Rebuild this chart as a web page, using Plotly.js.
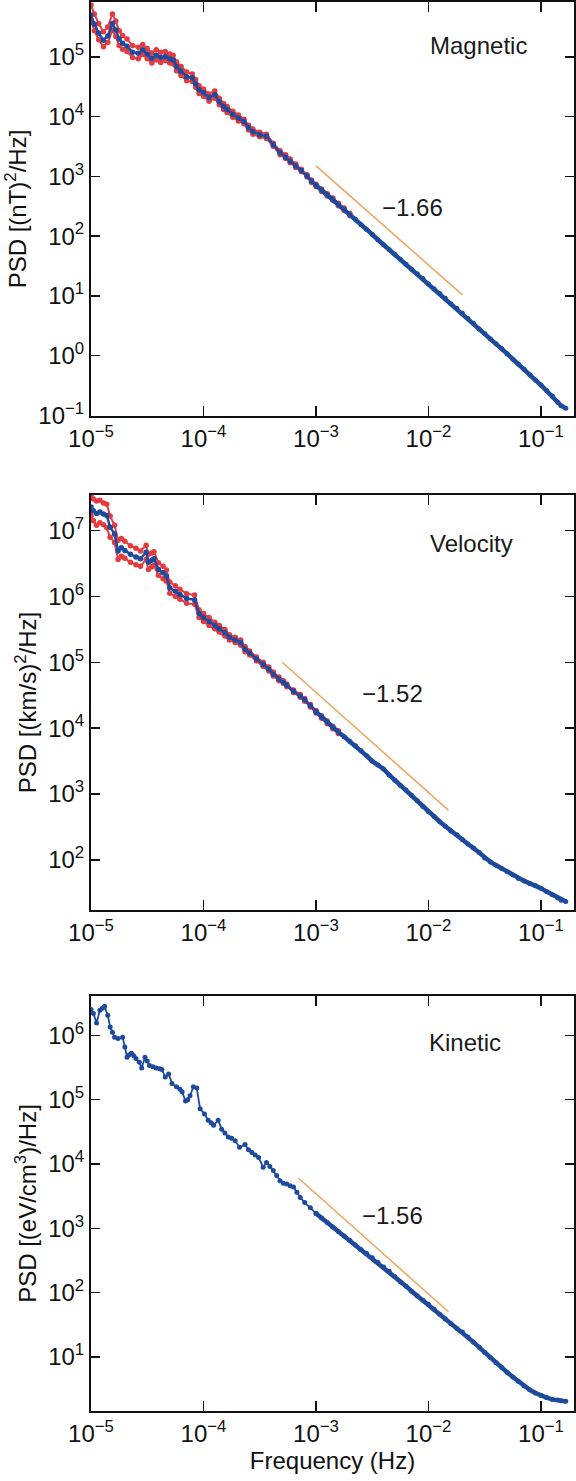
<!DOCTYPE html>
<html>
<head>
<meta charset="utf-8">
<script src="https://cdn.plot.ly/plotly-3.0.1.min.js"></script>
<style>
  html, body { margin: 0; padding: 0; background: #fff; }
  #chart { width: 576px; height: 1481px; }
</style>
</head>
<body>
<div id="chart"></div>
<script>
// ---------------- DATA ----------------
// shared high-frequency grid (Hz), 1.12e-3 .. 0.166
const freqHigh = [1.12e-3,1.26e-3,1.41e-3,1.58e-3,1.78e-3,2.00e-3,2.24e-3,2.51e-3,2.82e-3,3.16e-3,3.55e-3,3.98e-3,4.47e-3,5.01e-3,5.62e-3,6.31e-3,7.08e-3,7.94e-3,8.91e-3,1.00e-2,1.12e-2,1.26e-2,1.41e-2,1.58e-2,1.78e-2,2.00e-2,2.24e-2,2.51e-2,2.82e-2,3.16e-2,3.55e-2,3.98e-2,4.47e-2,5.01e-2,5.62e-2,6.31e-2,7.08e-2,7.94e-2,8.91e-2,0.100,0.112,0.126,0.141,0.151,0.166];

// Magnetic
const freqMagLow = [1.00e-5,1.07e-5,1.17e-5,1.29e-5,1.41e-5,1.55e-5,1.66e-5,1.78e-5,1.91e-5,2.09e-5,2.34e-5,2.63e-5,2.88e-5,3.16e-5,3.47e-5,3.80e-5,4.17e-5,4.57e-5,5.01e-5,5.37e-5,5.75e-5,6.31e-5,7.08e-5,7.94e-5,8.51e-5,9.12e-5,1.00e-4,1.12e-4,1.26e-4,1.38e-4,1.51e-4,1.62e-4,1.82e-4,2.04e-4,2.29e-4,2.51e-4,2.75e-4,3.16e-4,3.63e-4,4.17e-4,4.79e-4,5.37e-4,5.89e-4,6.61e-4,7.41e-4,8.32e-4,9.12e-4,1.00e-3];
const psdMag = [5.0e5,3.55e5,2.51e5,1.91e5,2.24e5,3.63e5,2.82e5,2.0e5,1.70e5,1.51e5,1.20e5,1.15e5,1.32e5,1.12e5,9.5e4,1.07e5,9.8e4,1.02e5,9.3e4,8.9e4,6.9e4,5.75e4,4.68e4,4.47e4,3.55e4,2.82e4,2.51e4,2.09e4,2.34e4,1.78e4,1.48e4,1.32e4,1.10e4,9.5e3,8.3e3,6.6e3,5.6e3,5.0e3,4.7e3,3.4e3,2.5e3,2.1e3,1.8e3,1.5e3,1.26e3,1.02e3,830,710,
  590,490,417,339,282,229,191,155,129,107,87,72,60,50,41,34,28,23.4,19.5,15.8,13.2,11.0,9.1,7.4,6.2,5.1,4.2,3.5,2.8,2.34,1.9,1.58,1.32,1.07,0.87,0.72,0.59,0.48,0.39,0.32,0.26,0.21,0.166,0.145,0.132];
const psdMagUpper = [7.4e5,5.25e5,3.63e5,2.63e5,3.16e5,5.25e5,3.98e5,2.75e5,2.29e5,2.0e5,1.55e5,1.45e5,1.62e5,1.38e5,1.17e5,1.32e5,1.20e5,1.23e5,1.12e5,1.07e5,8.3e4,6.9e4,5.6e4,5.2e4,4.2e4,3.3e4,2.9e4,2.4e4,2.7e4,2.04e4,1.66e4,1.48e4,1.23e4,1.07e4,9.1e3,7.2e3,6.2e3,5.5e3,5.1e3,3.6e3,2.7e3,2.3e3,1.95e3,1.62e3,1.32e3,1.07e3,870,740,617,513,437,355,295,240];
const psdMagLower = [4.0e5,2.75e5,1.95e5,1.48e5,1.74e5,2.8e5,2.2e5,1.55e5,1.35e5,1.23e5,9.8e4,9.3e4,1.1e5,9.3e4,7.9e4,8.9e4,8.1e4,8.7e4,7.9e4,7.6e4,5.9e4,4.9e4,4.0e4,3.9e4,3.1e4,2.45e4,2.2e4,1.82e4,2.04e4,1.58e4,1.32e4,1.17e4,9.8e3,8.5e3,7.6e3,6.0e3,5.1e3,4.6e3,4.3e3,3.2e3,2.3e3,2.0e3,1.7e3,1.41e3,1.2e3,980,790,676,562,468,398,324,269,219];
const fitMagFreq = [1.0e-3, 2.0e-2];
const fitMagPsd = [1500, 10.4];

// Velocity
const freqVelLow = [1.00e-5,1.05e-5,1.12e-5,1.20e-5,1.29e-5,1.38e-5,1.48e-5,1.62e-5,1.74e-5,1.86e-5,2.00e-5,2.24e-5,2.51e-5,2.75e-5,3.09e-5,3.24e-5,3.47e-5,3.63e-5,3.98e-5,4.37e-5,4.68e-5,5.01e-5,5.62e-5,6.17e-5,7.08e-5,8.32e-5,9.12e-5,1.00e-4,1.12e-4,1.26e-4,1.38e-4,1.55e-4,1.70e-4,1.91e-4,2.14e-4,2.34e-4,2.57e-4,2.95e-4,3.39e-4,3.80e-4,4.17e-4,4.68e-4,5.13e-4,5.50e-4,6.31e-4,7.24e-4,7.94e-4,8.91e-4,1.00e-3];
const psdVel = [2.29e7,2.0e7,1.82e7,1.91e7,1.78e7,1.70e7,1.12e7,8.9e6,4.9e6,5.5e6,5.0e6,4.37e6,3.98e6,3.72e6,4.68e6,3.31e6,3.55e6,3.72e6,2.57e6,2.29e6,2.04e6,1.35e6,1.20e6,1.07e6,9.3e5,8.9e5,5.5e5,4.8e5,4.17e5,3.63e5,3.24e5,2.82e5,2.4e5,2.19e5,2.0e5,1.58e5,1.38e5,1.12e5,9.3e4,7.9e4,6.6e4,5.6e4,5.0e4,4.47e4,3.63e4,3.09e4,2.69e4,2.19e4,1.78e4,
  1.48e4,1.23e4,1.02e4,8.7e3,7.4e3,6.3e3,5.4e3,4.6e3,3.8e3,3.16e3,2.75e3,2.4e3,1.95e3,1.62e3,1.35e3,1.15e3,955,794,646,537,457,380,324,275,240,204,174,151,129,107,93,83,74,66,59,52,48,44,41,37,33,29.5,26.3,24.5,23.4];
const psdVelUpper = [3.47e7,3.02e7,2.82e7,2.88e7,2.63e7,2.51e7,1.66e7,1.20e7,7.1e6,7.6e6,6.9e6,5.9e6,5.4e6,4.9e6,6.0e6,4.37e6,4.57e6,4.79e6,3.24e6,2.88e6,2.51e6,1.66e6,1.45e6,1.29e6,1.10e6,1.05e6,6.3e5,5.5e5,4.8e5,4.07e5,3.63e5,3.16e5,2.63e5,2.4e5,2.19e5,1.74e5,1.48e5,1.20e5,1.0e5,8.5e4,7.1e4,6.0e4,5.25e4,4.68e4,3.8e4,3.24e4,2.82e4,2.29e4,1.86e4,1.55e4,1.29e4,1.07e4,9.1e3];
const psdVelLower = [1.70e7,1.41e7,1.20e7,1.32e7,1.23e7,1.10e7,7.9e6,6.6e6,3.63e6,4.07e6,3.8e6,3.31e6,3.02e6,2.88e6,3.63e6,2.57e6,2.82e6,2.95e6,2.09e6,1.86e6,1.70e6,1.12e6,1.0e6,9.1e5,7.9e5,7.6e5,4.8e5,4.17e5,3.63e5,3.24e5,2.88e5,2.51e5,2.19e5,2.0e5,1.82e5,1.45e5,1.29e5,1.05e5,8.7e4,7.4e4,6.2e4,5.25e4,4.79e4,4.27e4,3.47e4,2.95e4,2.57e4,2.09e4,1.70e4,1.41e4,1.17e4,9.8e3,8.3e3];
const fitVelFreq = [5.0e-4, 1.5e-2];
const fitVelPsd = [1.0e5, 570];

// Kinetic
const freqKinLow = [1.00e-5,1.05e-5,1.12e-5,1.20e-5,1.26e-5,1.32e-5,1.41e-5,1.48e-5,1.55e-5,1.62e-5,1.74e-5,1.91e-5,2.00e-5,2.09e-5,2.19e-5,2.29e-5,2.40e-5,2.51e-5,2.69e-5,2.82e-5,3.02e-5,3.16e-5,3.31e-5,3.55e-5,3.80e-5,4.07e-5,4.27e-5,4.57e-5,4.90e-5,5.25e-5,5.75e-5,6.17e-5,6.46e-5,6.92e-5,7.24e-5,7.59e-5,8.13e-5,8.71e-5,9.33e-5,1.02e-4,1.10e-4,1.17e-4,1.23e-4,1.35e-4,1.45e-4,1.55e-4,1.66e-4,1.78e-4,1.91e-4,2.09e-4,2.34e-4,2.51e-4,2.69e-4,2.88e-4,3.09e-4,3.39e-4,3.63e-4,3.89e-4,4.17e-4,4.47e-4,4.79e-4,5.13e-4,5.50e-4,5.89e-4,6.31e-4,6.76e-4,7.24e-4,7.94e-4,8.91e-4,1.00e-3];
const psdKin = [2.51e6,2.19e6,1.55e6,2.45e6,2.63e6,2.82e6,2.04e6,1.35e6,1.12e6,9.3e5,8.9e5,9.3e5,6.6e5,4.57e5,5.0e5,5.25e5,4.79e5,4.37e5,3.8e5,3.09e5,4.57e5,3.98e5,3.39e5,3.24e5,3.09e5,3.02e5,2.95e5,2.24e5,2.51e5,1.78e5,1.58e5,1.45e5,1.32e5,9.5e4,1.0e5,1.15e5,1.58e5,1.51e5,7.2e4,6.0e4,4.79e4,4.37e4,3.98e4,4.79e4,3.47e4,3.02e4,2.63e4,2.51e4,2.29e4,1.82e4,2.0e4,1.66e4,1.51e4,1.38e4,1.26e4,8.9e3,1.05e4,9.1e3,7.9e3,6.6e3,5.5e3,5.0e3,4.9e3,4.57e3,4.37e3,3.63e3,3.02e3,2.51e3,2.09e3,1.70e3,
  1.45e3,1.23e3,1.05e3,891,759,646,550,468,407,347,295,251,214,178,148,126,105,89,76,66,55,46,39,33,28,24.5,20.4,17.0,14.1,11.7,9.8,8.1,6.9,5.75,4.9,4.17,3.55,3.09,2.75,2.51,2.34,2.19,2.14,2.09,2.04];
const fitKinFreq = [7.0e-4, 1.5e-2];
const fitKinPsd = [6.0e3, 50.5];

// Labels and ticks
const panelNames = ['Magnetic', 'Velocity', 'Kinetic'];
const slopeLabels = ['\u22121.66', '\u22121.52', '\u22121.56'];
const yTitles = ['PSD [(nT)<sup>2</sup>/Hz]', 'PSD [(km/s)<sup>2</sup>/Hz]', 'PSD [(eV/cm<sup>3</sup>)/Hz]'];
const xTitle = 'Frequency (Hz)';
const xTickVals = [1e-5, 1e-4, 1e-3, 1e-2, 1e-1];
const xTickText = ['10<sup>\u22125</sup>','10<sup>\u22124</sup>','10<sup>\u22123</sup>','10<sup>\u22122</sup>','10<sup>\u22121</sup>'];
const xMinorVals = [2e-5,3e-5,4e-5,5e-5,6e-5,7e-5,8e-5,9e-5,2e-4,3e-4,4e-4,5e-4,6e-4,7e-4,8e-4,9e-4,2e-3,3e-3,4e-3,5e-3,6e-3,7e-3,8e-3,9e-3,2e-2,3e-2,4e-2,5e-2,6e-2,7e-2,8e-2,9e-2];
const magTickVals = [1e-1, 1, 10, 100, 1e3, 1e4, 1e5];
const magTickText = ['10<sup>\u22121</sup>','10<sup>0</sup>','10<sup>1</sup>','10<sup>2</sup>','10<sup>3</sup>','10<sup>4</sup>','10<sup>5</sup>'];
const magMinorVals = [0.2,0.3,0.4,0.5,0.6,0.7,0.8,0.9,2,3,4,5,6,7,8,9,20,30,40,50,60,70,80,90,200,300,400,500,600,700,800,900,2e3,3e3,4e3,5e3,6e3,7e3,8e3,9e3,2e4,3e4,4e4,5e4,6e4,7e4,8e4,9e4,2e5,3e5,4e5,5e5,6e5,7e5,8e5];
const velTickVals = [100, 1e3, 1e4, 1e5, 1e6, 1e7];
const velTickText = ['10<sup>2</sup>','10<sup>3</sup>','10<sup>4</sup>','10<sup>5</sup>','10<sup>6</sup>','10<sup>7</sup>'];
const velMinorVals = [20,30,40,50,60,70,80,90,200,300,400,500,600,700,800,900,2e3,3e3,4e3,5e3,6e3,7e3,8e3,9e3,2e4,3e4,4e4,5e4,6e4,7e4,8e4,9e4,2e5,3e5,4e5,5e5,6e5,7e5,8e5,9e5,2e6,3e6,4e6,5e6,6e6,7e6,8e6,9e6,2e7,3e7];
const kinTickVals = [10, 100, 1e3, 1e4, 1e5, 1e6];
const kinTickText = ['10<sup>1</sup>','10<sup>2</sup>','10<sup>3</sup>','10<sup>4</sup>','10<sup>5</sup>','10<sup>6</sup>'];
const kinMinorVals = [2,3,4,5,6,7,8,9,20,30,40,50,60,70,80,90,200,300,400,500,600,700,800,900,2e3,3e3,4e3,5e3,6e3,7e3,8e3,9e3,2e4,3e4,4e4,5e4,6e4,7e4,8e4,9e4,2e5,3e5,4e5,5e5,6e5,7e5,8e5,9e5,2e6,3e6,4e6];

// ---------------- STYLE ----------------
const FONT = 'Liberation Sans, Arial, Helvetica, sans-serif';
const BLUE = '#1d4a9c';
const RED = '#e53a3f';
const ORANGE = '#f0a35a';
const INK = '#111';

function lowHigh(freqLow, psd) {
  const n = freqLow.length;
  return {
    lowX: freqLow, lowY: psd.slice(0, n),
    highX: [freqLow[n - 1]].concat(freqHigh), highY: psd.slice(n - 1)
  };
}
const mag = lowHigh(freqMagLow, psdMag);
const vel = lowHigh(freqVelLow, psdVel);
const kin = lowHigh(freqKinLow, psdKin);
const freqMagBand = freqMagLow.concat(freqHigh).slice(0, psdMagUpper.length);
const freqVelBand = freqVelLow.concat(freqHigh).slice(0, psdVelUpper.length);

function dots(x, y, color, xa, ya, lw, ms) {
  return {x: x, y: y, xaxis: xa, yaxis: ya, type: 'scatter', mode: 'lines+markers',
    line: {color: color, width: lw}, marker: {color: color, size: ms}, showlegend: false, hoverinfo: 'skip'};
}
function fit(x, y, xa, ya) {
  return {x: x, y: y, xaxis: xa, yaxis: ya, type: 'scatter', mode: 'lines',
    line: {color: ORANGE, width: 1.5}, showlegend: false, hoverinfo: 'skip'};
}

const data = [
  dots(freqMagBand, psdMagLower, RED, 'x', 'y', 2, 5.5),
  dots(freqMagBand, psdMagUpper, RED, 'x', 'y', 2, 5.5),
  dots(mag.lowX, mag.lowY, BLUE, 'x', 'y', 2.5, 5.5),
  dots(mag.highX, mag.highY, BLUE, 'x', 'y', 4.5, 5),
  fit(fitMagFreq, fitMagPsd, 'x', 'y'),
  dots(freqVelBand, psdVelLower, RED, 'x2', 'y2', 2, 5.5),
  dots(freqVelBand, psdVelUpper, RED, 'x2', 'y2', 2, 5.5),
  dots(vel.lowX, vel.lowY, BLUE, 'x2', 'y2', 2.5, 5.5),
  dots(vel.highX, vel.highY, BLUE, 'x2', 'y2', 4.5, 5),
  fit(fitVelFreq, fitVelPsd, 'x2', 'y2'),
  dots(kin.lowX, kin.lowY, BLUE, 'x3', 'y3', 1.8, 5),
  dots(kin.highX, kin.highY, BLUE, 'x3', 'y3', 4.5, 5),
  fit(fitKinFreq, fitKinPsd, 'x3', 'y3')
];

const tickFont = {family: FONT, size: 24, color: INK};
const titleFont = {family: FONT, size: 24, color: INK};
const XRANGE = [-5, -0.707];

function xAxis(anchor, withTitle) {
  const ax = {
    type: 'log', range: XRANGE, domain: [0, 1], anchor: anchor,
    tickmode: 'array', tickvals: xTickVals, ticktext: xTickText,
    ticks: 'inside', ticklen: 10, tickwidth: 1.5, tickcolor: INK,
    showline: true, linewidth: 2, linecolor: INK, mirror: 'allticks',
    showgrid: false, zeroline: false, tickfont: tickFont
  };
  if (withTitle) ax.title = {text: xTitle, font: titleFont, standoff: 5};
  return ax;
}
function xMinor(over, anchor) {
  return {
    type: 'log', range: XRANGE, overlaying: over, anchor: anchor,
    tickmode: 'array', tickvals: xMinorVals, ticks: 'inside', ticklen: 5.5, tickwidth: 1.5, tickcolor: INK,
    showticklabels: false, showline: false, mirror: 'allticks', showgrid: false, zeroline: false
  };
}
function yAxis(anchor, domain, range, tv, tt, title) {
  return {
    type: 'log', range: range, domain: domain, anchor: anchor,
    tickmode: 'array', tickvals: tv, ticktext: tt,
    ticks: 'inside', ticklen: 9, tickwidth: 1.5, tickcolor: INK,
    showline: true, linewidth: 2, linecolor: INK, mirror: 'allticks',
    showgrid: false, zeroline: false, tickfont: tickFont,
    title: {text: title, font: titleFont, standoff: 5}
  };
}
function yMinor(over, anchor, range, tv) {
  return {
    type: 'log', range: range, overlaying: over, anchor: anchor,
    tickmode: 'array', tickvals: tv, ticks: 'inside', ticklen: 4.5, tickwidth: 1.2, tickcolor: INK,
    showticklabels: false, showline: false, mirror: 'allticks', showgrid: false, zeroline: false
  };
}

function ann(text, x, y, xr, yr) {
  return {text: text, x: x, y: y, xref: xr, yref: yr, showarrow: false,
    xanchor: 'center', yanchor: 'middle', font: {family: FONT, size: 24, color: '#1a1a1a'}};
}

const YR1 = [-1.01, 5.92], YR2 = [1.24, 7.54], YR3 = [0.16, 6.61];

const layout = {
  width: 576, height: 1481,
  margin: {l: 91, r: 2, t: 2, b: 70},
  paper_bgcolor: '#fff', plot_bgcolor: '#fff',
  font: {family: FONT, color: INK},
  xaxis: xAxis('y', false),
  xaxis2: xAxis('y2', false),
  xaxis3: xAxis('y3', true),
  xaxis4: xMinor('x', 'y'),
  xaxis5: xMinor('x2', 'y2'),
  xaxis6: xMinor('x3', 'y3'),
  yaxis: yAxis('x', [0.7062, 1.0], YR1, magTickVals, magTickText, yTitles[0]),
  yaxis2: yAxis('x2', [0.3556, 0.6501], YR2, velTickVals, velTickText, yTitles[1]),
  yaxis3: yAxis('x3', [0.0, 0.2945], YR3, kinTickVals, kinTickText, yTitles[2]),
  yaxis4: yMinor('y', 'x', YR1, magMinorVals),
  yaxis5: yMinor('y2', 'x2', YR2, velMinorVals),
  yaxis6: yMinor('y3', 'x3', YR3, kinMinorVals),
  annotations: [
    ann(panelNames[0], -1.56, 5.2, 'x', 'y'),
    ann(slopeLabels[0], -2.14, 2.48, 'x', 'y'),
    ann(panelNames[1], -1.62, 6.80, 'x2', 'y2'),
    ann(slopeLabels[1], -2.32, 4.53, 'x2', 'y2'),
    ann(panelNames[2], -1.68, 5.89, 'x3', 'y3'),
    ann(slopeLabels[2], -2.32, 3.2, 'x3', 'y3')
  ]
};

Plotly.newPlot('chart', data, layout, {staticPlot: true, displayModeBar: false});
</script>
</body>
</html>
